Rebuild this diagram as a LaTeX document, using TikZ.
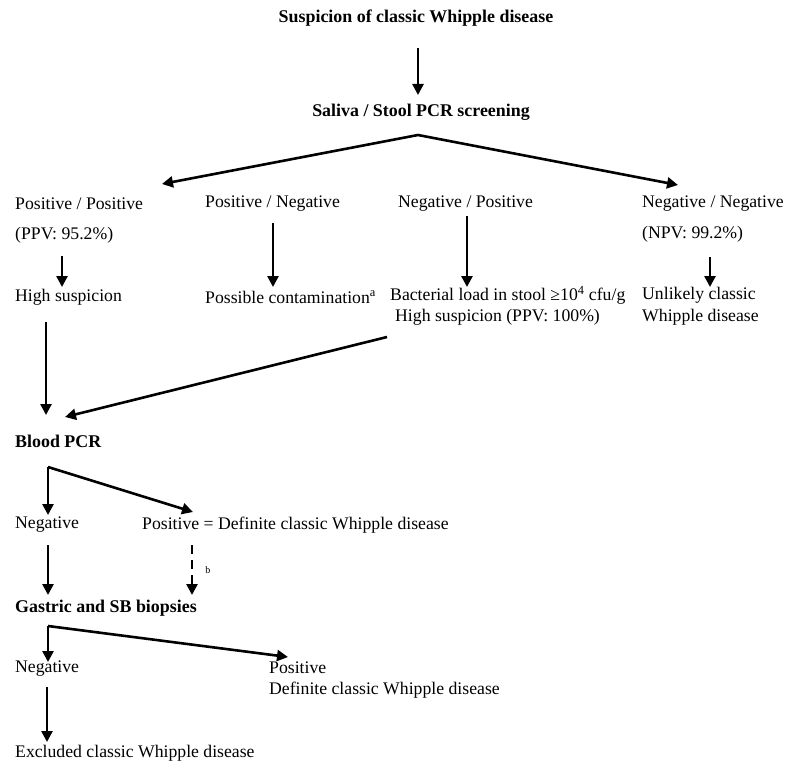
\documentclass[tikz,border=0pt]{standalone}
\usepackage{fontspec}
\setmainfont{Liberation Serif}
\usetikzlibrary{arrows.meta,calc}
\begin{document}
\begin{tikzpicture}[x=1pt,y=-1pt,
  txt/.style={inner sep=0pt,anchor=west,font=\fontsize{17.7}{21}\selectfont},
  btxt/.style={txt,font=\fontsize{17.9}{21}\selectfont\bfseries},
  arr/.style={line width=2.6pt,-{Triangle[length=11pt,width=11pt]}},
  darr/.style={arr,dash pattern=on 9pt off 6pt}]
\useasboundingbox (0,0) rectangle (795,762);
\node[btxt,anchor=center] (title) at (416,18) {Suspicion of classic Whipple disease};
\node[btxt,anchor=center] (saliva) at (421,112) {Saliva / Stool PCR screening};
\node[txt] (pp) at (15,204) {Positive / Positive};
\node[txt] (ppv) at (15,235) {(PPV: 95.2\%)};
\node[txt] (pn) at (205,204) {Positive / Negative};
\node[txt] (np) at (398,204) {Negative / Positive};
\node[txt] (nn) at (642,204) {Negative / Negative};
\node[txt] (npv) at (642,234) {(NPV: 99.2\%)};
\node[txt] (hs) at (15,297) {High suspicion};
\node[txt] (pc) at (205,297) {Possible contamination\textsuperscript{a}};
\node[txt] (bl1) at (390,295) {Bacterial load in stool ≥10\textsuperscript{4} cfu/g};
\node[txt] (bl2) at (395,317) {High suspicion (PPV: 100\%)};
\node[txt] (un1) at (642,295) {Unlikely classic};
\node[txt] (un2) at (642,317) {Whipple disease};
\node[btxt] (blood) at (15,441) {Blood PCR};
\node[txt] (neg1) at (15,525) {Negative};
\node[txt] (pos1) at (142,525) {Positive = Definite classic Whipple disease};
\node[btxt] (gast) at (15,608) {Gastric and SB biopsies};
\node[txt] (neg2) at (15,669) {Negative};
\node[txt] (pos2) at (269,668) {Positive};
\node[txt] (pos2b) at (269,690) {Definite classic Whipple disease};
\node[txt] (excl) at (15,753) {Excluded classic Whipple disease};
% connectors
\draw[arr] ([shift={(2,30)}]title.center) -- ([shift={(-3,-17)}]saliva.center);
\coordinate (apex) at ([shift={(-3,23)}]saliva.center);
\draw[arr] (apex) -- ([shift={(147,-20)}]pp.west);
\draw[arr] (apex) -- ([shift={(36,-19)}]nn.west);
\draw[arr] ([shift={(47,21)}]ppv.west) -- ([shift={(47,-10)}]hs.west);
\draw[arr] ([shift={(68,19)}]pn.west) -- ([shift={(68,-10)}]pc.west);
\draw[arr] ([shift={(69,12)}]np.west) -- ([shift={(77,-8)}]bl1.west);
\draw[arr] ([shift={(68,23)}]npv.west) -- ([shift={(68,-8)}]un1.west);
\draw[arr] ([shift={(31,25)}]hs.west) -- ([shift={(31,-26)}]blood.west);
\draw[arr] ([shift={(-8,20)}]bl2.west) -- ([shift={(50,-24)}]blood.west);
\coordinate (c1) at ([shift={(33,26)}]blood.west);
\draw[arr] (c1) -- ([shift={(33,-10)}]neg1.west);
\draw[arr] (c1) -- ([shift={(51,-13)}]pos1.west);
\draw[arr] ([shift={(33,20)}]neg1.west) -- ([shift={(33,-13)}]gast.west);
\draw[darr] ([shift={(50,20)}]pos1.west) -- node[midway,right=12pt,inner sep=0pt,font=\fontsize{10}{12}\selectfont]{b} ([shift={(177,-13)}]gast.west);
\coordinate (c2) at ([shift={(33,18)}]gast.west);
\draw[arr] (c2) -- ([shift={(33,-7)}]neg2.west);
\draw[arr] (c2) -- ([shift={(19,-11)}]pos2.west);
\draw[arr] ([shift={(32,18)}]neg2.west) -- ([shift={(32,-11)}]excl.west);
\end{tikzpicture}
\end{document}
